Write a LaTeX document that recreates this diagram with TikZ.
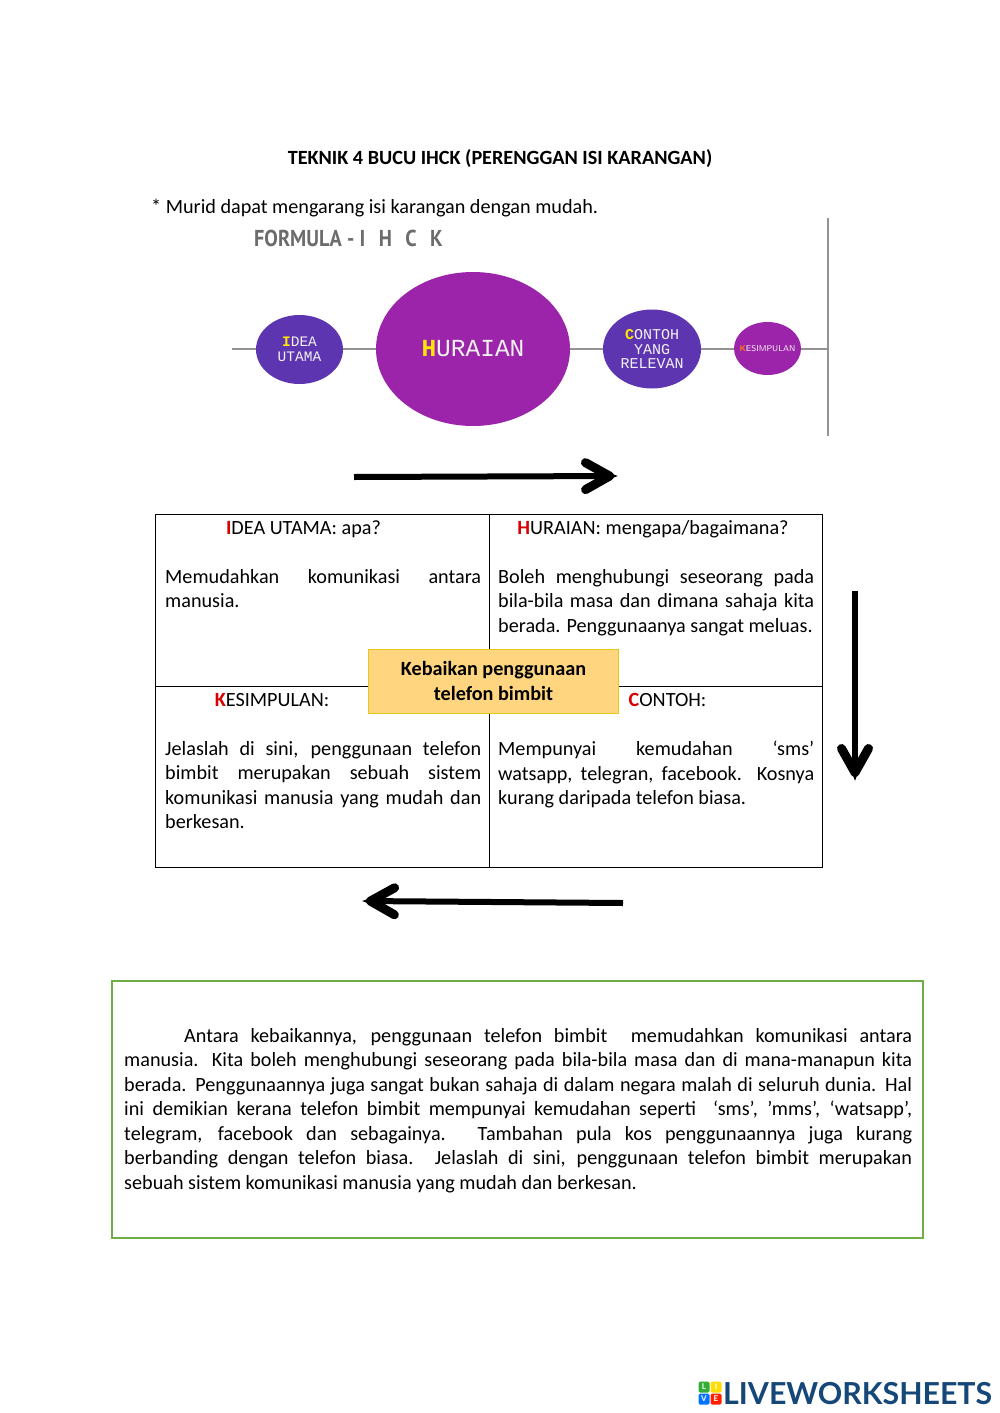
\documentclass[tikz,border=0pt]{standalone}
\usepackage{fontspec}
\setmainfont{Carlito}
\newfontfamily\monofont{Liberation Mono}
\newfontfamily\narrowfont{PT Sans}
\newfontfamily\logofont{Lato}
\usepackage{xcolor}
\usetikzlibrary{arrows.meta,shapes.geometric}
\definecolor{ovalblue}{RGB}{94,53,177}
\definecolor{ovalpurple}{RGB}{156,36,170}
\definecolor{boxorange}{RGB}{255,213,128}
\definecolor{logoblue}{RGB}{21,71,120}
\newcommand{\redl}[1]{\textcolor{red!85!black}{\textbf{#1}}}
\newcommand{\yell}[1]{\textcolor{yellow!90!orange}{\textbf{#1}}}
\tikzset{
  body/.style={font=\fontsize{20.2}{24.5}\selectfont,inner sep=0pt},
  para/.style={body,anchor=north west,text width=#1,align=justify},
  head/.style={body,anchor=base},
  cellbox/.style={draw,line width=0.7pt,minimum width=333.5pt,inner sep=0pt},
  oval/.style={ellipse,inner sep=0pt,text=white!90!gray,align=center},
  axis/.style={draw=gray!85,line width=1.4pt},
  bigarrow/.style={line width=6pt,-{Straight Barb[length=24pt,width=27pt,line width=9pt,round,sep=-24pt]Stealth[length=28pt,width=20pt,inset=8pt]}},
  logosq/.style={minimum size=11pt,inner sep=0pt,rounded corners=1.5pt,text=white,font=\logofont\bfseries\fontsize{8}{8}\selectfont},
}
\begin{document}
\begin{tikzpicture}[x=1pt,y=-1pt]
\useasboundingbox (0,0) rectangle (1000,1413);
\fill[white] (0,0) rectangle (1000,1413);
% title
\node[body,font=\fontsize{20.2}{24.5}\selectfont\bfseries] (title) at (500,159) {TEKNIK 4 BUCU IHCK (PERENGGAN ISI KARANGAN)};
\node[body,anchor=west] (note) at (151,208) {* Murid dapat mengarang isi karangan dengan mudah.};
% formula
\node[anchor=west,inner sep=0pt,text=gray!85!black,xscale=0.88,font=\narrowfont\bfseries\fontsize{23}{23}\selectfont] (formula) at (254,238.5) {FORMULA - I\hspace{9.5pt} H\hspace{9.5pt} C\hspace{9.5pt} K};
\coordinate (lineL) at (232,349);
\coordinate (lineR) at (828,349);
\coordinate (barT) at (828,218);
\coordinate (barB) at (828,436);
\draw[axis] (lineL) -- (lineR);
\draw[axis] (barT) -- (barB);
\node[oval,fill=ovalblue,minimum width=87pt,minimum height=69pt,font=\monofont\fontsize{14.5}{14.5}\selectfont] (idea) at (299.5,349.5) {\yell{I}DEA\\UTAMA};
\node[oval,fill=ovalpurple,minimum width=194pt,minimum height=154pt,font=\monofont\fontsize{24.5}{24.5}\selectfont] (huraian) at (473,349) {\yell{H}URAIAN};
\node[oval,fill=ovalblue,minimum width=98pt,minimum height=79pt,font=\monofont\fontsize{15}{14.5}\selectfont] (contoh) at (652,349) {\yell{C}ONTOH\\YANG\\RELEVAN};
\node[oval,fill=ovalpurple,minimum width=67pt,minimum height=53pt,font=\sffamily\fontsize{8.4}{9}\selectfont] (kesimpulan) at (767.5,348.5) {\makebox[0pt]{\textcolor{orange}{\textbf{K}}ESIMPULAN}};
% arrows
\coordinate (topA) at (354,477);
\coordinate (topB) at (618,476);
\coordinate (sideA) at (855,591);
\coordinate (sideB) at (855,781);
\coordinate (botA) at (623,903);
\coordinate (botB) at (362,901);
\draw[bigarrow] (topA) -- (topB);
\draw[bigarrow] (sideA) -- (sideB);
\draw[bigarrow] (botA) -- (botB);
% four corners
\node[cellbox,minimum height=171.5pt,anchor=north west] (cellI) at (155,514) {};
\node[cellbox,minimum height=171.5pt,anchor=north west,minimum width=332.5pt] (cellH) at (cellI.north east) {};
\node[cellbox,minimum height=181pt,anchor=north west] (cellK) at (cellI.south west) {};
\node[cellbox,minimum height=181pt,anchor=north west,minimum width=332.5pt] (cellC) at (cellH.south west) {};
\node[head] (headI) at (303.5,534) {\redl{I}DEA UTAMA: apa?};
\node[head] (headH) at (653,534) {\redl{H}URAIAN: mengapa/bagaimana?};
\node[head] (headK) at (272,706) {\redl{K}ESIMPULAN:};
\node[head] (headC) at (667.5,706) {\redl{C}ONTOH:};
\node[para=316pt] (textI) at (165,569) {Memudahkan komunikasi antara\linebreak manusia.};
\node[para=316pt] (textH) at (498,569) {Boleh menghubungi seseorang pada\linebreak bila-bila masa dan dimana sahaja kita\linebreak berada. Penggunaanya sangat meluas.};
\node[para=316pt] (textK) at (165,741) {Jelaslah di sini, penggunaan telefon\linebreak bimbit merupakan sebuah sistem\linebreak komunikasi manusia yang mudah dan\linebreak berkesan.};
\node[para=316pt] (textC) at (498,741) {Mempunyai kemudahan ‘sms’\linebreak watsapp, telegran, facebook. Kosnya\linebreak kurang daripada telefon biasa.};
\node[draw=yellow!75!orange!90!black,fill=boxorange,line width=0.7pt,minimum width=250.5pt,minimum height=64pt,inner sep=0pt,align=center,font=\fontsize{20.2}{24.5}\selectfont\bfseries] (topic) at (493.5,681) {Kebaikan penggunaan\\telefon bimbit};
% paragraph box
\node[draw={rgb,255:red,112;green,173;blue,71},line width=2pt,minimum width=811pt,minimum height=257pt,inner sep=0pt,anchor=north west] (parabox) at (110.7,979.7) {};
\node[para=788pt] (parabody) at (124,1028) {\hspace*{60pt}Antara kebaikannya, penggunaan telefon bimbit\ \ memudahkan komunikasi antara\linebreak manusia. Kita boleh menghubungi seseorang pada bila-bila masa dan di mana-manapun kita\linebreak berada. Penggunaannya juga sangat bukan sahaja di dalam negara malah di seluruh dunia. Hal\linebreak ini demikian kerana telefon bimbit mempunyai kemudahan seperti\ \ ‘sms’, ’mms’, ‘watsapp’,\linebreak telegram, facebook dan sebagainya. Tambahan pula kos penggunaannya juga kurang\linebreak berbanding dengan telefon biasa. Jelaslah di sini, penggunaan telefon bimbit merupakan\linebreak sebuah sistem komunikasi manusia yang mudah dan berkesan.};
% logo
\node[logosq,fill=green!60!black!80] (logoL) at (704,1387) {L};
\node[logosq,fill=yellow!80!orange] (logoI) at (716,1387) {I};
\node[logosq,fill=blue!55!cyan] (logoV) at (704,1399) {V};
\node[logosq,fill=red!75!orange] (logoE) at (716,1399) {E};
\node[anchor=west,inner sep=0pt,text=logoblue,font=\logofont\bfseries\fontsize{30.3}{30}\selectfont] (logotext) at (723,1394) {LIVEWORKSHEETS};
\end{tikzpicture}
\end{document}
